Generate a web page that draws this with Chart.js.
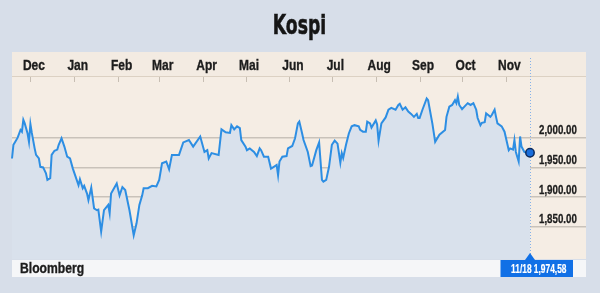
<!DOCTYPE html>
<html>
<head>
<meta charset="utf-8">
<title>Kospi</title>
<script src="https://cdn.jsdelivr.net/npm/chart.js@4.4.1/dist/chart.umd.min.js"></script>
<style>
  html, body { margin: 0; padding: 0; background: #d7dee9; }
  canvas { display: block; }
</style>
</head>
<body>
<canvas id="kospi" width="600" height="293"></canvas>
<script>
// Kospi daily close, 18 Nov 2015 – 18 Nov 2016.
// Days are counted from 1 Dec 2015 (negative = November 2015).
const monthLabels = ['Dec', 'Jan', 'Feb', 'Mar', 'Apr', 'Mai', 'Jun', 'Jul', 'Aug', 'Sep', 'Oct', 'Nov'];
const monthStarts = [0, 31, 62, 91, 122, 152, 183, 213, 244, 275, 305, 336];

const tradingDays = [
  -13, -12, -11, -9, -7, -6, -5, -4, -2, -1, 0, 1, 3, 4, 6, 7, 9, 11, 12, 14,
  15, 17, 19, 20, 22, 24, 26, 28, 30, 32, 34, 35, 37, 38, 40, 41, 43, 45, 47, 48,
  50, 52, 55, 56, 57, 61, 63, 65, 67, 70, 73, 75, 77, 79, 80, 83, 86, 89, 91, 93,
  96, 98, 100, 105, 108, 112, 115, 120, 123, 125, 126, 128, 133, 135, 138, 141, 142, 144, 146, 148,
  149, 152, 153, 155, 158, 160, 162, 163, 165, 168, 170, 172, 174, 175, 176, 178, 181, 182, 185, 187,
  189, 190, 192, 193, 196, 198, 199, 202, 204, 206, 207, 209, 211, 213, 215, 217, 219, 220, 221, 223,
  225, 227, 229, 232, 233, 235, 237, 238, 240, 241, 244, 245, 246, 248, 251, 253, 255, 258, 260, 261,
  263, 265, 267, 269, 271, 273, 274, 275, 277, 280, 281, 284, 286, 289, 293, 294, 296, 298, 300, 301,
  302, 303, 305, 307, 309, 311, 313, 315, 316, 318, 319, 321, 322, 325, 326, 328, 329, 330, 333, 335,
  338, 339, 341, 342, 343, 345, 346, 347, 349, 352, 353
];

const closes = [
  1965, 1988, 1992, 2000, 2013, 2010, 2030, 2024, 2007, 1993, 2023, 2008, 1982, 1971, 1965, 1951, 1950, 1940, 1929, 1932,
  1971, 1978, 1980, 1988, 1999, 1985, 1968, 1965, 1948, 1934, 1920, 1930, 1915, 1919, 1906, 1895, 1916, 1881, 1878, 1879,
  1842, 1878, 1887, 1873, 1906, 1923, 1903, 1917, 1912, 1878, 1836, 1856, 1887, 1903, 1915, 1915, 1919, 1918, 1929, 1957,
  1960, 1947, 1971, 1971, 1992, 1996, 1985, 2002, 1976, 1979, 1965, 1974, 1971, 2014, 2009, 2008, 2021, 2014, 2019, 2016,
  1996, 1985, 1979, 1982, 1976, 1969, 1982, 1979, 1968, 1968, 1948, 1951, 1954, 1937, 1960, 1968, 1969, 1982, 1986, 1999,
  2024, 2027, 2007, 1996, 1976, 1952, 1953, 1979, 1992, 1929, 1926, 1929, 1951, 1988, 1995, 1990, 1958, 1974, 1966, 1988,
  2007, 2019, 2021, 2019, 2013, 2010, 2010, 2027, 2024, 2017, 2029, 2022, 1995, 2024, 2034, 2047, 2050, 2047, 2055, 2057,
  2047, 2051, 2044, 2040, 2035, 2040, 2033, 2033, 2047, 2066, 2063, 2024, 1993, 2005, 2013, 2035, 2052, 2055, 2063, 2058,
  2069, 2055, 2048, 2053, 2058, 2055, 2058, 2047, 2033, 2021, 2025, 2026, 2041, 2035, 2038, 2047, 2035, 2024, 2019, 2010,
  1979, 1982, 1980, 1996, 1976, 1960, 2002, 1985, 1976, 1974, 1974.58
];

const yTicks = [1850, 1900, 1950, 2000];
const chartTitle = 'Kospi';
const lastDateLabel = '11/18';
const sourceLabel = 'Bloomberg';

const SANS = "'Liberation Sans', Arial, sans-serif";
const HEAVY = "'DejaVu Sans', sans-serif";

const COLORS = {
  page: '#d7dee9',
  header: '#f3ebe2',
  plot: '#f5ede4',
  footer: '#f5f6f8',
  area: '#d9e1ec',
  line: '#2d8ee3',
  grid: 'rgba(120,115,110,0.35)',
  text: '#1c1c1c',
  marker: '#1170e6'
};

function axisNumber(v) {
  return v.toLocaleString('en-US', { minimumFractionDigits: 2, maximumFractionDigits: 2 });
}
function badgeNumber(v) {
  const [i, f] = v.toFixed(2).split('.');
  return Number(i).toLocaleString('en-US') + ',' + f;
}

// Narrow, heavy lettering: squeeze the glyphs horizontally around the anchor
// and optionally thicken the strokes a little.
function narrowText(ctx, text, x, y, font, squeeze, weight) {
  ctx.font = font;
  const w = ctx.measureText(text).width * squeeze;
  ctx.fillText(text, x, y, w);
  if (weight) {
    ctx.lineWidth = weight;
    ctx.strokeStyle = ctx.fillStyle;
    ctx.strokeText(text, x, y, w);
  }
}

const points = tradingDays.map((d, i) => ({ x: d, y: closes[i] }));
const lastIndex = points.length - 1;

const panelPlugin = {
  id: 'panel',
  beforeDraw(chart) {
    const { ctx, chartArea: a } = chart;
    const xs = chart.scales.x, ys = chart.scales.y;
    const left = a.left, right = ys.right;
    ctx.save();
    ctx.fillStyle = COLORS.page;
    ctx.fillRect(0, 0, chart.width, chart.height);
    ctx.fillStyle = COLORS.header;
    ctx.fillRect(left, xs.top, right - left, xs.bottom - xs.top);
    ctx.fillStyle = COLORS.plot;
    ctx.fillRect(left, a.top, right - left, a.bottom - a.top);
    ctx.fillStyle = COLORS.footer;
    ctx.fillRect(left, a.bottom + 1, right - left, 17);
    ctx.strokeStyle = '#dcd1c3';
    ctx.lineWidth = 1;
    ctx.beginPath();
    ctx.moveTo(left, a.top - 0.5);
    ctx.lineTo(right, a.top - 0.5);
    ctx.stroke();

    // title
    ctx.fillStyle = '#151515';
    ctx.textAlign = 'center';
    ctx.textBaseline = 'alphabetic';
    narrowText(ctx, chartTitle, (left + right) / 2 + 0.5, 33.5, 'bold 27px ' + HEAVY, 0.64, 0.6);
    ctx.restore();
  },
  beforeDatasetsDraw(chart) {
    // dotted guide at the latest close
    const { ctx, chartArea: a } = chart;
    const x = Math.round(chart.scales.x.getPixelForValue(tradingDays[lastIndex])) + 0.5;
    ctx.save();
    ctx.strokeStyle = '#86b2e9';
    ctx.lineWidth = 1;
    ctx.setLineDash([1, 2]);
    ctx.beginPath();
    ctx.moveTo(x, chart.scales.x.top + 6);
    ctx.lineTo(x, a.bottom);
    ctx.stroke();
    ctx.restore();
  },
  afterDraw(chart) {
    const { ctx, chartArea: a } = chart;
    const xs = chart.scales.x, ys = chart.scales.y;
    ctx.save();

    // month boundary ticks hanging from the header, names above them
    ctx.fillStyle = COLORS.text;
    ctx.textAlign = 'center';
    ctx.textBaseline = 'alphabetic';
    xs.ticks.forEach((t, i) => {
      const px = xs.getPixelForValue(t.value);
      const x = Math.round(px) + 0.5;
      ctx.strokeStyle = '#c7beb3';
      ctx.lineWidth = 1;
      ctx.beginPath();
      ctx.moveTo(x, a.top);
      ctx.lineTo(x, a.top + 5);
      ctx.stroke();
      narrowText(ctx, monthLabels[i], px + 3.5, 69.5, 'bold 15px ' + SANS, 0.8, 0.35);
    });

    // value labels sitting on their grid lines
    ctx.textAlign = 'left';
    ys.ticks.forEach(t => {
      const py = ys.getPixelForValue(t.value);
      narrowText(ctx, axisNumber(t.value), a.right + 9, py - 3.5, 'bold 13.5px ' + SANS, 0.72, 0.3);
    });

    // source line
    narrowText(ctx, sourceLabel, a.left + 8, a.bottom + 13.5, 'bold 15px ' + SANS, 0.81, 0.35);

    // latest value badge
    const lx = xs.getPixelForValue(tradingDays[lastIndex]);
    const boxL = lx - 29.5, boxW = 72.5, boxT = a.bottom + 1, boxH = 17;
    ctx.fillStyle = COLORS.marker;
    ctx.beginPath();
    ctx.moveTo(lx, a.bottom - 6);
    ctx.lineTo(lx + 5, boxT);
    ctx.lineTo(lx - 5, boxT);
    ctx.closePath();
    ctx.fill();
    ctx.fillRect(boxL, boxT, boxW, boxH);
    ctx.fillStyle = '#ffffff';
    ctx.textAlign = 'center';
    narrowText(ctx, lastDateLabel + ' ' + badgeNumber(closes[lastIndex]), boxL + boxW / 2 + 2, boxT + 13, 'bold 12.5px ' + SANS, 0.67, 0.2);
    ctx.restore();
  }
};

new Chart(document.getElementById('kospi'), {
  type: 'line',
  data: {
    datasets: [{
      data: points,
      borderColor: COLORS.line,
      borderWidth: 2,
      backgroundColor: COLORS.area,
      fill: 'start',
      tension: 0,
      clip: false,
      pointRadius: c => (c.dataIndex === lastIndex ? 4.2 : 0),
      pointHoverRadius: 0,
      pointBackgroundColor: '#1a6edc',
      pointBorderColor: '#0b2a5c',
      pointBorderWidth: 1.5
    }]
  },
  options: {
    responsive: false,
    devicePixelRatio: 1,
    animation: false,
    events: [],
    layout: { padding: { left: 12, right: 14, top: 52, bottom: 34 } },
    plugins: {
      legend: { display: false },
      tooltip: { enabled: false },
      title: { display: false }
    },
    scales: {
      x: {
        type: 'linear',
        position: 'top',
        min: -13,
        max: 353,
        afterBuildTicks: s => { s.ticks = monthStarts.map(v => ({ value: v })); },
        afterFit: s => { s.height = 25; },
        grid: { display: false, drawTicks: false },
        border: { display: false },
        ticks: { display: false, autoSkip: false, maxRotation: 0 }
      },
      y: {
        position: 'right',
        min: 1796,
        max: 2102,
        afterBuildTicks: s => { s.ticks = yTicks.map(v => ({ value: v })); },
        afterFit: s => { s.width = 56; },
        grid: { color: COLORS.grid, lineWidth: 1.5, drawTicks: true, tickLength: 56 },
        border: { display: false },
        ticks: { display: false }
      }
    }
  },
  plugins: [panelPlugin]
});
</script>
</body>
</html>
